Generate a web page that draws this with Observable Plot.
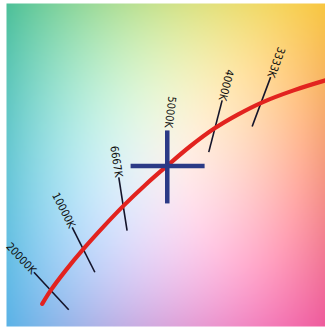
<!DOCTYPE html>
<html>
<head>
<meta charset="utf-8">
<script src="https://cdn.jsdelivr.net/npm/d3@7"></script>
<script src="https://cdn.jsdelivr.net/npm/@observablehq/plot@0.6"></script>
<style>
  html, body { margin: 0; padding: 0; background: #fff; }
  #chart svg { display: block; }
</style>
</head>
<body>
<div id="chart"></div>
<script>
// Background colour grid (rows: top, middle, bottom; columns: left, centre, right)
const bgRows = [
  ["#4cc098", "#cde28c", "#f8c640"],
  ["#66c6d4", "#f6f0ee", "#f59a7e"],
  ["#5ab2e6", "#d9a6dc", "#ee5a9c"]
];

// Planckian locus (unitless diagram coordinates)
const locusX = [11.2, 13.8, 18.5, 24.2, 30.5, 36.8, 43.6, 50.4, 57.6, 65.0, 72.5, 80.2, 90.0, 100];
const locusY = [7.0, 11.1, 17.3, 24.1, 31.0, 37.5, 43.9, 49.8, 55.8, 61.2, 65.6, 69.4, 73.1, 76.2];

// Isotherms: label, top end (x1,y1), bottom end (x2,y2)
const isoLabels = ["20000K", "10000K", "6667K", "4000K", "3333K"];
const isoX1 = [8.6, 20.6, 35.2, 67.6, 82.8];
const isoY1 = [16.8, 30.7, 46.2, 70.0, 77.2];
const isoX2 = [19.5, 27.7, 37.8, 63.4, 77.0];
const isoY2 = [5.2, 16.8, 29.7, 54.0, 61.9];

// Labels (incl. 5000K at the cross)
const labelText = ["20000K", "10000K", "6667K", "5000K", "4000K", "3333K"];
const labelX = [8.6, 20.6, 35.2, 50.7, 67.6, 82.8];
const labelY = [16.8, 30.7, 46.2, 61.5, 70.0, 77.2];
const labelAngle = [47, 63, 81, 97, 104, 110];

// White-point cross (5000K)
const crossX1 = [50.4, 38.9];
const crossY1 = [60.7, 49.7];
const crossX2 = [50.4, 62.1];
const crossY2 = [38.1, 49.7];

const locus = locusX.map((x, i) => ({x, y: locusY[i]}));
const isos = isoLabels.map((t, i) => ({t, x1: isoX1[i], y1: isoY1[i], x2: isoX2[i], y2: isoY2[i]}));
const labels = labelText.map((t, i) => ({t, x: labelX[i], y: labelY[i], a: labelAngle[i]}));
const cross = crossX1.map((x1, i) => ({x1, y1: crossY1[i], x2: crossX2[i], y2: crossY2[i]}));

const grid = bgRows.map(r => r.map(c => d3.rgb(c)));
// smooth (quadratic) interpolation through the 3x3 colour grid
const w3 = t => [(t - 1) * (t - 2) / 2, -t * (t - 2), t * (t - 1) / 2];
function bgColor(x, y) {
  const wx = w3(Math.max(0, Math.min(2, x / 50)));
  const wy = w3(Math.max(0, Math.min(2, (100 - y) / 50)));
  const out = {r: 0, g: 0, b: 0};
  for (let j = 0; j < 3; ++j) for (let i = 0; i < 3; ++i) {
    const w = wx[i] * wy[j], c = grid[j][i];
    out.r += w * c.r; out.g += w * c.g; out.b += w * c.b;
  }
  const cl = v => Math.max(0, Math.min(255, v));
  return d3.rgb(cl(out.r), cl(out.g), cl(out.b)).formatHex();
}

const chart = Plot.plot({
  width: 325,
  height: 330,
  marginTop: 3,
  marginBottom: 4,
  marginLeft: 6,
  marginRight: 0,
  x: {domain: [0, 100], axis: null},
  y: {domain: [0, 100], axis: null},
  color: {type: "identity"},
  marks: [
    Plot.raster({x1: 0, x2: 100, y1: 0, y2: 100, fill: bgColor, pixelSize: 2, imageRendering: "auto"}),
    Plot.link(isos, {x1: "x1", y1: "y1", x2: "x2", y2: "y2", stroke: "#14142a", strokeWidth: 1.6}),
    Plot.line(locus, {x: "x", y: "y", stroke: "#e2231f", strokeWidth: 4.2, curve: "catmull-rom", strokeLinecap: "round"}),
    Plot.link(cross, {x1: "x1", y1: "y1", x2: "x2", y2: "y2", stroke: "#2b3a86", strokeWidth: 4.5}),
    Plot.text(labels, {x: "x", y: "y", text: "t", rotate: "a", textAnchor: "end", fontSize: 11, fill: "#111", fontFamily: "DejaVu Sans Condensed, DejaVu Sans, sans-serif"})
  ]
});
document.getElementById("chart").appendChild(chart);
</script>
</body>
</html>
